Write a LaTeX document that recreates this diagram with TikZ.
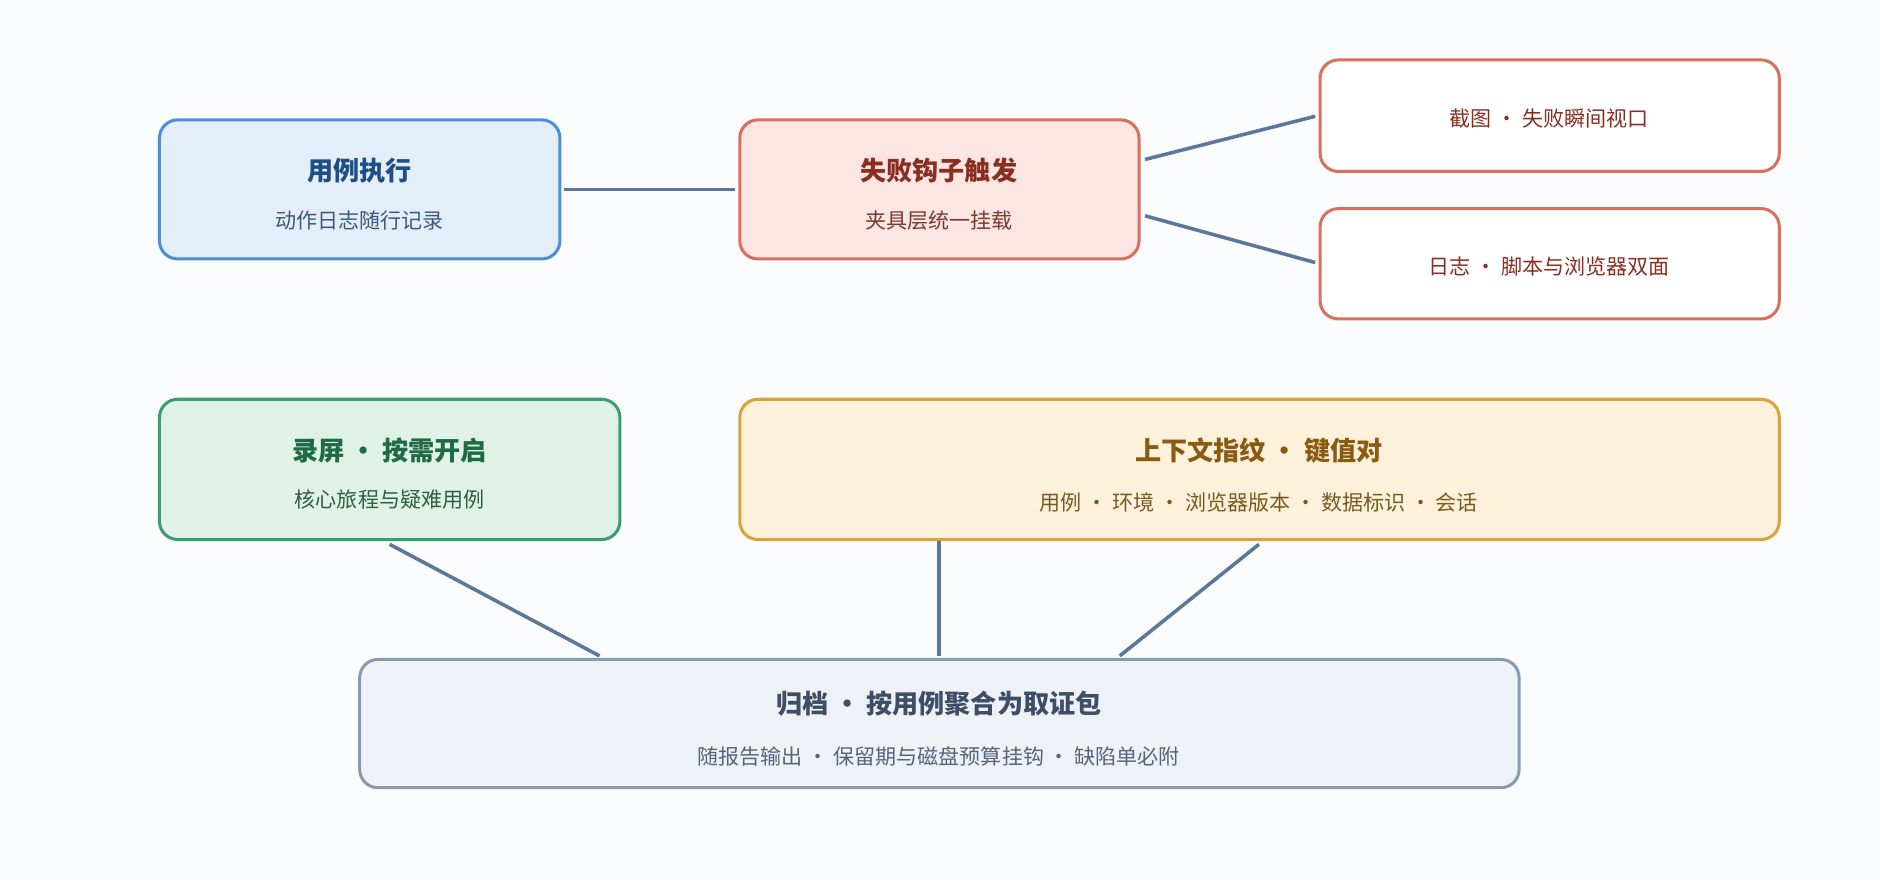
\documentclass[tikz,border=0pt]{standalone}
\usepackage{fontspec}
\setmainfont{Noto Sans CJK SC}
\definecolor{lnc}{HTML}{5B7799}
\definecolor{bgc}{HTML}{FBFCFE}
\definecolor{bdb}{HTML}{4A90D9}\definecolor{fb}{HTML}{E3EEF9}
\definecolor{bdr}{HTML}{D9705F}\definecolor{fr}{HTML}{FBE6E3}
\definecolor{bdg}{HTML}{3A9E70}\definecolor{fg}{HTML}{E0F2E8}
\definecolor{bdy}{HTML}{D9A53A}\definecolor{fy}{HTML}{FDF1DB}
\definecolor{bdk}{HTML}{8A9AB0}\definecolor{fk}{HTML}{EEF2F6}
\definecolor{tb}{HTML}{1F4E87}\definecolor{sb}{HTML}{3E5A7A}
\definecolor{tr}{HTML}{8B2E22}\definecolor{sr}{HTML}{7A3A2E}
\definecolor{tg}{HTML}{1E6B45}\definecolor{sg}{HTML}{2F5E45}
\definecolor{ty}{HTML}{8A5A10}\definecolor{sy}{HTML}{7A5A20}
\definecolor{tk}{HTML}{3D4E66}\definecolor{sk}{HTML}{56657A}
\begin{document}
\begin{tikzpicture}[x={(0.025cm,0)},y={(0,-0.025cm)},
  box/.style={draw,line width=1.8pt,rounded corners=0.38cm},
  ttl/.style={font=\fontsize{15.5}{18}\selectfont\bfseries},
  sub/.style={font=\fontsize{12.5}{15}\selectfont},
  conn/.style={draw=lnc,line width=2.1pt}]
\fill[bgc] (0,0) rectangle (1568,734);
\useasboundingbox (0,0) rectangle (1568,734);
\draw[box,draw=bdb,fill=fb] (133,100) rectangle (467,216);
\draw[box,draw=bdr,fill=fr] (617,100) rectangle (950,216);
\draw[box,draw=bdr,fill=white] (1101,50) rectangle (1484,143);
\draw[box,draw=bdr,fill=white] (1101,174) rectangle (1484,266);
\draw[box,draw=bdg,fill=fg] (133,333) rectangle (517,450);
\draw[box,draw=bdy,fill=fy] (617,333) rectangle (1484,450);
\draw[box,draw=bdk,fill=fk] (300,550) rectangle (1267,657);
\node[ttl,text=tb] (at) at (300,142) {用例执行};
\node[sub,text=sb] (as) at (300,184) {动作日志随行记录};
\node[ttl,text=tr] (bt) at (783,142) {失败钩子触发};
\node[sub,text=sr] (bs) at (783,184) {夹具层统一挂载};
\node[sub,text=tr] (ct) at (1292,99) {截图 · 失败瞬间视口};
\node[sub,text=tr] (dt) at (1292,222) {日志 · 脚本与浏览器双面};
\node[ttl,text=tg] (et) at (325,376) {录屏 • 按需开启};
\node[sub,text=sg] (es) at (325,417) {核心旅程与疑难用例};
\node[ttl,text=ty] (ft) at (1050,376) {上下文指纹 • 键值对};
\node[sub,text=sy] (fs) at (1050,419) {用例 · 环境 · 浏览器版本 · 数据标识 · 会话};
\node[ttl,text=tk] (gt) at (783,587) {归档 • 按用例聚合为取证包};
\node[sub,text=sk] (gs) at (783,631) {随报告输出 · 保留期与磁盘预算挂钩 · 缺陷单必附};
\coordinate (a1) at (470,158); \coordinate (b1) at (613,158);
\coordinate (b2) at (955,133); \coordinate (c1) at (1097,97);
\coordinate (b3) at (955,180); \coordinate (d1) at (1097,219);
\coordinate (e1) at (325,454); \coordinate (g1) at (500,547);
\coordinate (f1) at (783,451); \coordinate (g2) at (783,547);
\coordinate (f2) at (1050,454); \coordinate (g3) at (934,547);
\draw[conn] (a1) -- (b1);
\draw[conn] (b2) -- (c1);
\draw[conn] (b3) -- (d1);
\draw[conn] (e1) -- (g1);
\draw[conn] (f1) -- (g2);
\draw[conn] (f2) -- (g3);
\end{tikzpicture}
\end{document}
